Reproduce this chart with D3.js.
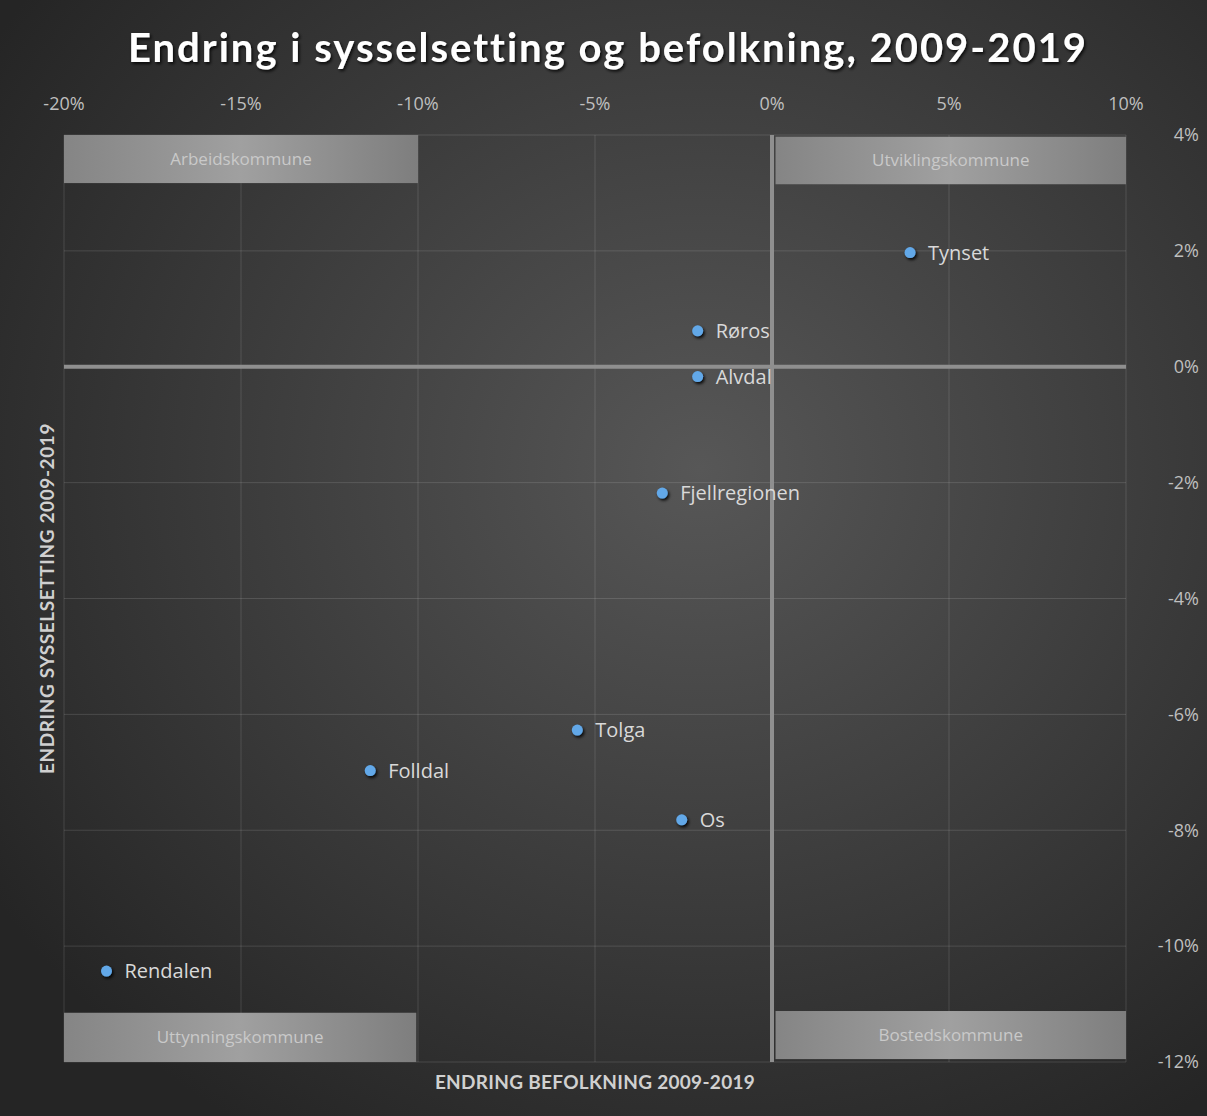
<!DOCTYPE html>
<html>
<head>
<meta charset="utf-8">
<script src="https://cdn.jsdelivr.net/npm/d3@7"></script>
<style>
  body { margin: 0; background: #2b2b2b; }
  svg { display: block; }
</style>
</head>
<body>
<svg id="chart"></svg>
<script>
// Endring i sysselsetting og befolkning, 2009-2019 (Fjellregionen)

const names = ["Tynset", "Røros", "Alvdal", "Fjellregionen", "Tolga", "Folldal", "Os", "Rendalen"];
const befolkning = [3.9, -2.1, -2.1, -3.1, -5.5, -11.35, -2.55, -18.8];   // x, %
const sysselsetting = [1.97, 0.62, -0.17, -2.18, -6.27, -6.97, -7.82, -10.43]; // y, %

const xTicks = [-20, -15, -10, -5, 0, 5, 10];
const yTicks = [4, 2, 0, -2, -4, -6, -8, -10, -12];

// quadrant labels (ranges in %)
const quadNames = ["Arbeidskommune", "Utviklingskommune", "Uttynningskommune", "Bostedskommune"];
const quadX = [[-20, -10], [0.1, 10], [-20, -10.05], [0.1, 10]];
const quadY = [[4, 3.17], [3.97, 3.15], [-11.15, -12], [-11.12, -11.95]];

const width = 1207, height = 1116;

const svg = d3.select("#chart")
    .attr("width", width)
    .attr("height", height);

const defs = svg.append("defs");

const bg = defs.append("radialGradient")
    .attr("id", "bg")
    .attr("cx", "58%").attr("cy", "42%").attr("r", "70%");
bg.append("stop").attr("offset", "0%").attr("stop-color", "#575757");
bg.append("stop").attr("offset", "100%").attr("stop-color", "#252525");

const boxGrad = defs.append("linearGradient")
    .attr("id", "boxGrad")
    .attr("x1", "0%").attr("x2", "100%");
boxGrad.append("stop").attr("offset", "0%").attr("stop-color", "#858585");
boxGrad.append("stop").attr("offset", "50%").attr("stop-color", "#a0a0a0");
boxGrad.append("stop").attr("offset", "100%").attr("stop-color", "#7e7e7e");

const shadow = defs.append("filter").attr("id", "shadow")
    .attr("x", "-50%").attr("y", "-50%").attr("width", "200%").attr("height", "200%");
shadow.append("feDropShadow")
    .attr("dx", 1.5).attr("dy", 2).attr("stdDeviation", 1.5)
    .attr("flood-color", "#000").attr("flood-opacity", 0.9);

const titleShadow = defs.append("filter").attr("id", "tshadow")
    .attr("x", "-10%").attr("y", "-30%").attr("width", "120%").attr("height", "160%");
titleShadow.append("feDropShadow")
    .attr("dx", 1.5).attr("dy", 2).attr("stdDeviation", 1.5)
    .attr("flood-color", "#000").attr("flood-opacity", 0.8);

svg.append("rect")
    .attr("width", width).attr("height", height)
    .attr("fill", "url(#bg)");

const x = d3.scaleLinear().domain([-20, 10]).range([64, 1126]);
const y = d3.scaleLinear().domain([4, -12]).range([135, 1062]);

// gridlines
svg.append("g")
    .selectAll("line")
    .data(xTicks)
    .enter().append("line")
    .attr("x1", d => x(d)).attr("x2", d => x(d))
    .attr("y1", y(4)).attr("y2", y(-12))
    .attr("stroke", "#ffffff")
    .attr("stroke-opacity", 0.13)
    .attr("stroke-width", 1);

svg.append("g")
    .selectAll("line")
    .data(yTicks)
    .enter().append("line")
    .attr("x1", x(-20)).attr("x2", x(10))
    .attr("y1", d => y(d)).attr("y2", d => y(d))
    .attr("stroke", "#ffffff")
    .attr("stroke-opacity", 0.13)
    .attr("stroke-width", 1);

// zero lines
svg.append("line")
    .attr("x1", x(-20)).attr("x2", x(10))
    .attr("y1", y(0)).attr("y2", y(0))
    .attr("stroke", "#8f8f8f").attr("stroke-width", 4);
svg.append("line")
    .attr("x1", x(0)).attr("x2", x(0))
    .attr("y1", y(4)).attr("y2", y(-12))
    .attr("stroke", "#8f8f8f").attr("stroke-width", 4);

// quadrant boxes
const quads = svg.append("g")
    .selectAll("g")
    .data(quadNames)
    .enter().append("g");
quads.append("rect")
    .attr("x", (d, i) => x(quadX[i][0]))
    .attr("width", (d, i) => x(quadX[i][1]) - x(quadX[i][0]))
    .attr("y", (d, i) => y(quadY[i][0]))
    .attr("height", (d, i) => y(quadY[i][1]) - y(quadY[i][0]))
    .attr("fill", "url(#boxGrad)");
quads.append("text")
    .attr("x", (d, i) => (x(quadX[i][0]) + x(quadX[i][1])) / 2)
    .attr("y", (d, i) => (y(quadY[i][0]) + y(quadY[i][1])) / 2)
    .attr("dy", "0.35em")
    .attr("text-anchor", "middle")
    .attr("font-family", "Open Sans, sans-serif")
    .attr("font-size", 17)
    .attr("fill", "#c9c9c9")
    .text(d => d);

// tick labels
svg.append("g")
    .selectAll("text")
    .data(xTicks)
    .enter().append("text")
    .attr("x", d => x(d))
    .attr("y", 110)
    .attr("text-anchor", "middle")
    .attr("font-family", "Open Sans, sans-serif")
    .attr("font-size", 18)
    .attr("fill", "#bfbfbf")
    .text(d => d + "%");

svg.append("g")
    .selectAll("text")
    .data(yTicks)
    .enter().append("text")
    .attr("x", 1199)
    .attr("y", d => y(d))
    .attr("dy", "0.35em")
    .attr("text-anchor", "end")
    .attr("font-family", "Open Sans, sans-serif")
    .attr("font-size", 18)
    .attr("fill", "#bfbfbf")
    .text(d => d + "%");

// axis titles
svg.append("text")
    .attr("x", (x(-20) + x(10)) / 2)
    .attr("y", 1089)
    .attr("text-anchor", "middle")
    .attr("font-family", "Lato, sans-serif")
    .attr("font-weight", "bold")
    .attr("font-size", 19)
    .attr("letter-spacing", 0.3)
    .attr("fill", "#d0d0d0")
    .text("ENDRING BEFOLKNING 2009-2019");

svg.append("text")
    .attr("transform", `translate(54, ${(y(4) + y(-12)) / 2}) rotate(-90)`)
    .attr("text-anchor", "middle")
    .attr("font-family", "Lato, sans-serif")
    .attr("font-weight", "bold")
    .attr("font-size", 19)
    .attr("letter-spacing", 0.6)
    .attr("fill", "#d0d0d0")
    .text("ENDRING SYSSELSETTING 2009-2019");

// title
svg.append("text")
    .attr("x", 608)
    .attr("y", 62)
    .attr("text-anchor", "middle")
    .attr("font-family", "Lato, sans-serif")
    .attr("font-weight", "bold")
    .attr("font-size", 40)
    .attr("letter-spacing", 2)
    .attr("fill", "#ffffff")
    .attr("filter", "url(#tshadow)")
    .text("Endring i sysselsetting og befolkning, 2009-2019");

// points
const pts = svg.append("g")
    .selectAll("g")
    .data(names)
    .enter().append("g");
pts.append("circle")
    .attr("cx", (d, i) => x(befolkning[i]))
    .attr("cy", (d, i) => y(sysselsetting[i]))
    .attr("r", 5.5)
    .attr("fill", "#62a8e8")
    .attr("filter", "url(#shadow)");
pts.append("text")
    .attr("x", (d, i) => x(befolkning[i]) + 18)
    .attr("y", (d, i) => y(sysselsetting[i]))
    .attr("dy", "0.35em")
    .attr("font-family", "Open Sans, sans-serif")
    .attr("font-size", 20)
    .attr("fill", "#d9d9d9")
    .text(d => d);
</script>
</body>
</html>
